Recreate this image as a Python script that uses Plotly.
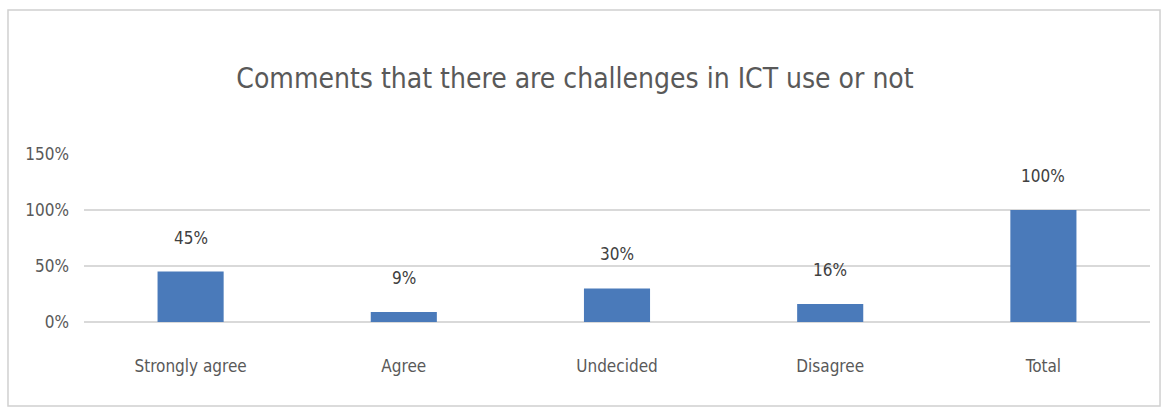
import plotly.graph_objects as go

categories = ["Strongly agree", "Agree", "Undecided", "Disagree", "Total"]
values = [0.45, 0.09, 0.30, 0.16, 1.00]
labels = ["45%", "9%", "30%", "16%", "100%"]
tick_vals = [0, 0.5, 1.0, 1.5]
tick_text = ["0%", "50%", "100%", "150%"]

FONT = "DejaVu Sans Condensed, Liberation Sans Narrow, Roboto, sans-serif"

fig = go.Figure()
fig.add_trace(go.Bar(x=categories, y=values, marker_color="#4a7aba",
                     marker_line_width=0, width=0.31, hoverinfo="skip"))

for c, v, t in zip(categories, values, labels):
    fig.add_annotation(x=c, y=v, text=t, showarrow=False, yanchor="bottom",
                       yshift=22, font=dict(family=FONT, size=17, color="#404040"))

fig.add_shape(type="rect", xref="paper", yref="paper",
              x0=-0.0713, x1=1.0094, y0=-0.5, y1=1.857,
              line=dict(color="#d0d0d0", width=1.5), fillcolor="rgba(0,0,0,0)")

fig.update_layout(
    width=1164, height=408,
    margin=dict(l=84, r=14, t=154, b=86),
    paper_bgcolor="white", plot_bgcolor="white",
    showlegend=False,
    title=dict(text="Comments that there are challenges in ICT use or not",
               x=575 / 1164, xanchor="center", xref="container", y=1 - 78 / 408, yref="container",
               yanchor="middle", font=dict(family=FONT, size=28, color="#595959")),
    font=dict(family=FONT, color="#595959"),
)
fig.update_yaxes(range=[0, 1.5], tickvals=tick_vals, ticktext=tick_text,
                 showgrid=True, gridcolor="#d9d9d9", gridwidth=1.5,
                 zeroline=True, zerolinecolor="#d9d9d9", zerolinewidth=1.5,
                 showline=False, ticks="", ticklen=0, ticklabelstandoff=14,
                 tickfont=dict(family=FONT, size=17, color="#595959"))
fig.update_xaxes(showline=False, ticks="", showgrid=False, ticklabelstandoff=32,
                 tickfont=dict(family=FONT, size=17, color="#595959"))
fig.write_html("out.html")
